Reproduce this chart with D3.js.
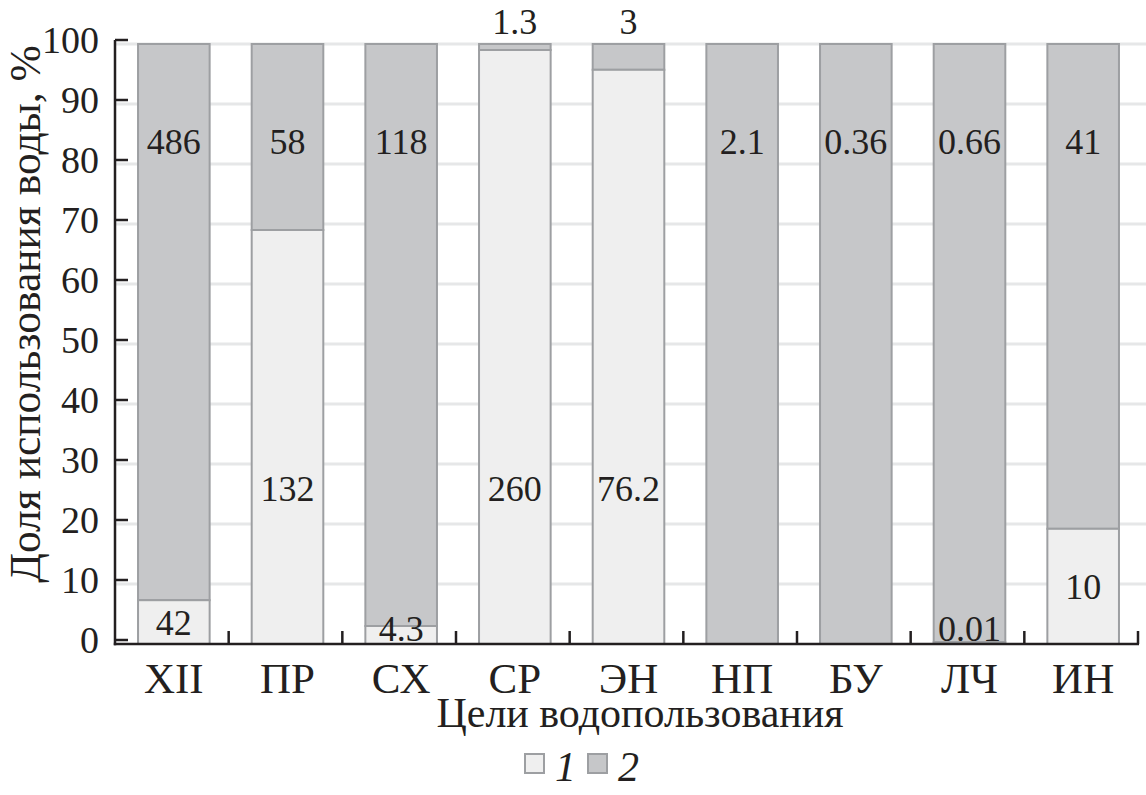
<!DOCTYPE html>
<html><head><meta charset="utf-8">
<script src="https://cdn.jsdelivr.net/npm/d3@7"></script>
<style>body{margin:0;background:#fff;} text{font-family:'Liberation Serif', serif !important;}</style></head>
<body><svg id="c" width="1146" height="795"></svg>
<script>
const categories = ["XII","ПР","СХ","СР","ЭН","НП","БУ","ЛЧ","ИН"];
const share1 = [7.3, 69, 3, 99, 95.7, 0, 0, 0.3, 19.2];
const labels1 = ["42","132","4.3","260","76.2","","","0.01","10"];
const labels2 = ["486","58","118","1.3","3","2.1","0.36","0.66","41"];
const yTicks = [0,10,20,30,40,50,60,70,80,90,100];
const legendNames = ["1","2"];

const FONT = "'Liberation Serif', serif";
const colors = ["#efefef","#c6c7c9"];
const svg = d3.select("#c");
const m = {l:115, r:1138, t:44, b:644};
const x = d3.scaleBand().domain(categories).range([m.l, m.r]).paddingInner(0.37).paddingOuter(0.185);
const xb = d3.scaleBand().domain(categories).range([m.l, m.r]);
const y = d3.scaleLinear().domain([0,100]).range([m.b, m.t]);

function txt(g){ return g.style("font-family", FONT).attr("fill","#231f20"); }

svg.append("g").selectAll("line").data(yTicks.filter(d=>d>0)).join("line")
  .attr("x1", m.l).attr("x2", m.r+8).attr("y1", d=>y(d)).attr("y2", d=>y(d))
  .attr("stroke","#e6e7e8").attr("stroke-width",3);

const stack = categories.map((c,i)=>({c, s1:share1[i], s2:100-share1[i], l1:labels1[i], l2:labels2[i]}));
const bw = x.bandwidth();
const bars = svg.append("g");
bars.selectAll("rect.s2").data(stack).join("rect").attr("class","s2")
  .attr("x", d=>x(d.c)+2).attr("width", bw)
  .attr("y", d=>y(100)).attr("height", d=>y(d.s1)-y(100))
  .attr("fill", colors[1]).attr("stroke","#9d9fa2").attr("stroke-width",2);
bars.selectAll("rect.s1").data(stack.filter(d=>d.s1>0)).join("rect").attr("class","s1")
  .attr("x", d=>x(d.c)+2).attr("width", bw)
  .attr("y", d=>y(d.s1)).attr("height", d=>y(0)-y(d.s1))
  .attr("fill", colors[0]).attr("stroke","#9d9fa2").attr("stroke-width",2);

svg.append("g").selectAll("text").data(stack.filter(d=>d.l1)).join("text")
  .attr("x", d=>x(d.c)+2+bw/2)
  .attr("y", d=>y(Math.max(2.6, Math.min(d.s1/2, 26))))
  .attr("dy","0.35em").attr("text-anchor","middle").attr("font-size",36)
  .call(txt).text(d=>d.l1);
svg.append("g").selectAll("text").data(stack).join("text")
  .attr("x", d=>x(d.c)+2+bw/2)
  .attr("y", d=> d.s2 < 10 ? y(103.8) : y(83.8))
  .attr("dy","0.35em").attr("text-anchor","middle").attr("font-size",36)
  .call(txt).text(d=>d.l2);

const ax = svg.append("g").attr("stroke","#231f20").attr("stroke-width",2.5);
ax.append("line").attr("x1",m.l).attr("x2",m.l).attr("y1",y(100)-4).attr("y2",m.b+1.2);
ax.append("line").attr("x1",m.l-1.2).attr("x2",m.r+1).attr("y1",m.b).attr("y2",m.b);
ax.selectAll("line.yt").data(yTicks).join("line").attr("class","yt")
  .attr("x1",m.l).attr("x2",m.l+13).attr("y1",d=>y(d)-4).attr("y2",d=>y(d)-4);
ax.selectAll("line.xt").data(categories).join("line").attr("class","xt")
  .attr("x1",d=>xb(d)+xb.bandwidth()).attr("x2",d=>xb(d)+xb.bandwidth())
  .attr("y1",m.b).attr("y2",m.b-13);

svg.append("g").selectAll("text").data(yTicks).join("text")
  .attr("x", 99).attr("y", d=>y(d)-4).attr("dy","0.35em").attr("text-anchor","end")
  .attr("font-size",38).call(txt).text(d=>d);
svg.append("g").selectAll("text").data(categories).join("text")
  .attr("x", d=>xb(d)+xb.bandwidth()/2+2).attr("y", 693).attr("text-anchor","middle")
  .attr("font-size",43).call(txt).text(d=>d);

svg.append("text").attr("x",640).attr("y",727).attr("text-anchor","middle")
  .attr("font-size",42).call(txt).text("Цели водопользования");
svg.append("text").attr("transform","translate(40,314) rotate(-90)").attr("text-anchor","middle")
  .attr("font-size",43.5).call(txt).text("Доля использования воды, %");

const lg = svg.append("g");
legendNames.forEach((n,i)=>{
  const lx = 525 + i*63;
  lg.append("rect").attr("x",lx).attr("y",754).attr("width",19).attr("height",19)
    .attr("fill",colors[i]).attr("stroke","#9d9fa2").attr("stroke-width",2);
  lg.append("text").attr("x",lx+30).attr("y",781).attr("font-size",42)
    .attr("font-style","italic").call(txt).text(n);
});
</script></body></html>
